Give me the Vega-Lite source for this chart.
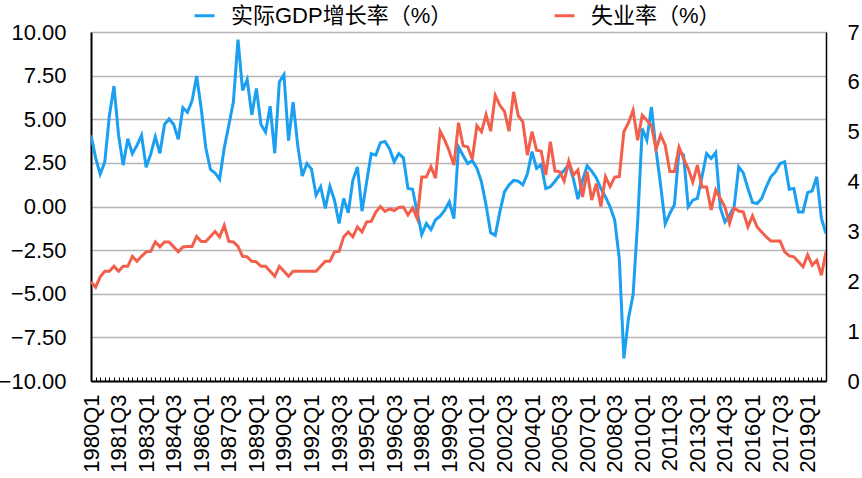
{
 "$schema": "https://vega.github.io/schema/vega-lite/v6.json",
 "width": 735,
 "height": 349,
 "autosize": "none",
 "padding": {"left": 91, "top": 32, "right": 36, "bottom": 97},
 "background": "white",
 "config": {
  "view": {"stroke": null},
  "font": "Liberation Sans, Noto Sans CJK SC",
  "axis": {"labelFont": "Liberation Sans", "labelColor": "#000000", "labelFontSize": 22, "domainColor": "#000000", "titleFontSize": 0}
 },
 "data": {"values": [
  {"q":"1980Q1","gdp":4.08,"un":1.99},{"q":"1980Q2","gdp":2.8,"un":1.88},{"q":"1980Q3","gdp":1.85,"un":2.09},{"q":"1980Q4","gdp":2.56,"un":2.2},
  {"q":"1981Q1","gdp":5.2,"un":2.2},{"q":"1981Q2","gdp":6.9,"un":2.3},{"q":"1981Q3","gdp":4.1,"un":2.2},{"q":"1981Q4","gdp":2.37,"un":2.3},
  {"q":"1982Q1","gdp":3.88,"un":2.3},{"q":"1982Q2","gdp":3.03,"un":2.5},{"q":"1982Q3","gdp":3.5,"un":2.4},{"q":"1982Q4","gdp":4.08,"un":2.5},
  {"q":"1983Q1","gdp":2.25,"un":2.59},{"q":"1983Q2","gdp":3.0,"un":2.6},{"q":"1983Q3","gdp":4.0,"un":2.79},{"q":"1983Q4","gdp":3.05,"un":2.69},
  {"q":"1984Q1","gdp":4.7,"un":2.79},{"q":"1984Q2","gdp":5.02,"un":2.79},{"q":"1984Q3","gdp":4.7,"un":2.69},{"q":"1984Q4","gdp":3.85,"un":2.59},
  {"q":"1985Q1","gdp":5.66,"un":2.69},{"q":"1985Q2","gdp":5.4,"un":2.7},{"q":"1985Q3","gdp":6.05,"un":2.7},{"q":"1985Q4","gdp":7.48,"un":2.9},
  {"q":"1986Q1","gdp":5.6,"un":2.8},{"q":"1986Q2","gdp":3.35,"un":2.8},{"q":"1986Q3","gdp":2.12,"un":2.9},{"q":"1986Q4","gdp":1.92,"un":3.0},
  {"q":"1987Q1","gdp":1.55,"un":2.89},{"q":"1987Q2","gdp":3.35,"un":3.12},{"q":"1987Q3","gdp":4.66,"un":2.8},{"q":"1987Q4","gdp":6.0,"un":2.79},
  {"q":"1988Q1","gdp":9.56,"un":2.7},{"q":"1988Q2","gdp":6.66,"un":2.5},{"q":"1988Q3","gdp":7.27,"un":2.49},{"q":"1988Q4","gdp":5.25,"un":2.4},
  {"q":"1989Q1","gdp":6.76,"un":2.39},{"q":"1989Q2","gdp":4.7,"un":2.3},{"q":"1989Q3","gdp":4.27,"un":2.3},{"q":"1989Q4","gdp":5.75,"un":2.2},
  {"q":"1990Q1","gdp":3.05,"un":2.1},{"q":"1990Q2","gdp":7.14,"un":2.3},{"q":"1990Q3","gdp":7.56,"un":2.2},{"q":"1990Q4","gdp":3.78,"un":2.1},
  {"q":"1991Q1","gdp":5.98,"un":2.2},{"q":"1991Q2","gdp":3.5,"un":2.2},{"q":"1991Q3","gdp":1.75,"un":2.2},{"q":"1991Q4","gdp":2.46,"un":2.2},
  {"q":"1992Q1","gdp":2.14,"un":2.2},{"q":"1992Q2","gdp":0.65,"un":2.2},{"q":"1992Q3","gdp":1.13,"un":2.3},{"q":"1992Q4","gdp":-0.11,"un":2.4},
  {"q":"1993Q1","gdp":1.16,"un":2.4},{"q":"1993Q2","gdp":0.36,"un":2.59},{"q":"1993Q3","gdp":-0.97,"un":2.6},{"q":"1993Q4","gdp":0.46,"un":2.89},
  {"q":"1994Q1","gdp":-0.36,"un":2.99},{"q":"1994Q2","gdp":1.5,"un":2.89},{"q":"1994Q3","gdp":2.27,"un":3.09},{"q":"1994Q4","gdp":-0.27,"un":2.99},
  {"q":"1995Q1","gdp":1.41,"un":3.19},{"q":"1995Q2","gdp":3.03,"un":3.2},{"q":"1995Q3","gdp":2.94,"un":3.39},{"q":"1995Q4","gdp":3.66,"un":3.5},
  {"q":"1996Q1","gdp":3.73,"un":3.4},{"q":"1996Q2","gdp":3.3,"un":3.45},{"q":"1996Q3","gdp":2.56,"un":3.42},{"q":"1996Q4","gdp":3.03,"un":3.48},
  {"q":"1997Q1","gdp":2.79,"un":3.49},{"q":"1997Q2","gdp":1.03,"un":3.33},{"q":"1997Q3","gdp":0.99,"un":3.47},{"q":"1997Q4","gdp":-0.32,"un":3.26},
  {"q":"1998Q1","gdp":-1.6,"un":4.09},{"q":"1998Q2","gdp":-0.97,"un":4.09},{"q":"1998Q3","gdp":-1.32,"un":4.3},{"q":"1998Q4","gdp":-0.76,"un":4.07},
  {"q":"1999Q1","gdp":-0.55,"un":5.01},{"q":"1999Q2","gdp":-0.21,"un":4.83},{"q":"1999Q3","gdp":0.27,"un":4.61},{"q":"1999Q4","gdp":-0.69,"un":4.33},
  {"q":"2000Q1","gdp":3.42,"un":5.18},{"q":"2000Q2","gdp":2.92,"un":4.72},{"q":"2000Q3","gdp":2.46,"un":4.7},{"q":"2000Q4","gdp":2.63,"un":4.45},
  {"q":"2001Q1","gdp":2.2,"un":5.12},{"q":"2001Q2","gdp":1.41,"un":5.0},{"q":"2001Q3","gdp":0.08,"un":5.34},{"q":"2001Q4","gdp":-1.5,"un":5.01},
  {"q":"2002Q1","gdp":-1.65,"un":5.73},{"q":"2002Q2","gdp":-0.31,"un":5.53},{"q":"2002Q3","gdp":0.84,"un":5.41},{"q":"2002Q4","gdp":1.24,"un":5.01},
  {"q":"2003Q1","gdp":1.5,"un":5.8},{"q":"2003Q2","gdp":1.45,"un":5.32},{"q":"2003Q3","gdp":1.24,"un":5.2},{"q":"2003Q4","gdp":1.87,"un":4.53},
  {"q":"2004Q1","gdp":3.15,"un":5.0},{"q":"2004Q2","gdp":2.18,"un":4.63},{"q":"2004Q3","gdp":2.4,"un":4.61},{"q":"2004Q4","gdp":1.03,"un":4.13},
  {"q":"2005Q1","gdp":1.13,"un":4.8},{"q":"2005Q2","gdp":1.45,"un":4.21},{"q":"2005Q3","gdp":1.79,"un":4.2},{"q":"2005Q4","gdp":2.08,"un":4.01},
  {"q":"2006Q1","gdp":2.4,"un":4.41},{"q":"2006Q2","gdp":1.6,"un":4.13},{"q":"2006Q3","gdp":0.42,"un":4.23},{"q":"2006Q4","gdp":1.5,"un":3.69},
  {"q":"2007Q1","gdp":2.33,"un":4.2},{"q":"2007Q2","gdp":2.02,"un":3.63},{"q":"2007Q3","gdp":1.64,"un":3.96},{"q":"2007Q4","gdp":1.03,"un":3.5},
  {"q":"2008Q1","gdp":0.55,"un":4.1},{"q":"2008Q2","gdp":-0.02,"un":3.9},{"q":"2008Q3","gdp":-0.78,"un":4.09},{"q":"2008Q4","gdp":-2.98,"un":4.1},
  {"q":"2009Q1","gdp":-8.7,"un":5.0},{"q":"2009Q2","gdp":-6.41,"un":5.18},{"q":"2009Q3","gdp":-5.08,"un":5.43},{"q":"2009Q4","gdp":-0.88,"un":4.83},
  {"q":"2010Q1","gdp":4.47,"un":5.33},{"q":"2010Q2","gdp":3.8,"un":5.23},{"q":"2010Q3","gdp":5.7,"un":5.12},{"q":"2010Q4","gdp":3.23,"un":4.65},
  {"q":"2011Q1","gdp":1.22,"un":4.93},{"q":"2011Q2","gdp":-1.0,"un":4.73},{"q":"2011Q3","gdp":-0.4,"un":4.2},{"q":"2011Q4","gdp":0.1,"un":4.2},
  {"q":"2012Q1","gdp":3.2,"un":4.69},{"q":"2012Q2","gdp":2.94,"un":4.46},{"q":"2012Q3","gdp":-0.02,"un":4.26},{"q":"2012Q4","gdp":0.36,"un":3.99},
  {"q":"2013Q1","gdp":0.46,"un":4.33},{"q":"2013Q2","gdp":1.7,"un":3.89},{"q":"2013Q3","gdp":3.03,"un":3.89},{"q":"2013Q4","gdp":2.75,"un":3.43},
  {"q":"2014Q1","gdp":3.09,"un":3.83},{"q":"2014Q2","gdp":-0.08,"un":3.66},{"q":"2014Q3","gdp":-0.88,"un":3.49},{"q":"2014Q4","gdp":-0.5,"un":3.16},
  {"q":"2015Q1","gdp":-0.02,"un":3.47},{"q":"2015Q2","gdp":2.27,"un":3.41},{"q":"2015Q3","gdp":1.93,"un":3.39},{"q":"2015Q4","gdp":1.03,"un":3.09},
  {"q":"2016Q1","gdp":0.23,"un":3.31},{"q":"2016Q2","gdp":0.17,"un":3.09},{"q":"2016Q3","gdp":0.46,"un":2.99},{"q":"2016Q4","gdp":1.13,"un":2.89},
  {"q":"2017Q1","gdp":1.7,"un":2.81},{"q":"2017Q2","gdp":1.98,"un":2.81},{"q":"2017Q3","gdp":2.46,"un":2.81},{"q":"2017Q4","gdp":2.56,"un":2.59},
  {"q":"2018Q1","gdp":0.99,"un":2.51},{"q":"2018Q2","gdp":1.03,"un":2.49},{"q":"2018Q3","gdp":-0.31,"un":2.39},{"q":"2018Q4","gdp":-0.31,"un":2.29},
  {"q":"2019Q1","gdp":0.8,"un":2.53},{"q":"2019Q2","gdp":0.9,"un":2.32},{"q":"2019Q3","gdp":1.7,"un":2.42},{"q":"2019Q4","gdp":-0.69,"un":2.12},
  {"q":"2020Q1","gdp":-1.55,"un":2.59}
 ]},
 "encoding": {
  "x": {
   "field": "q", "type": "ordinal", "sort": null,
   "scale": {"type": "point", "padding": 0},
   "axis": {
    "title": null, "labelAngle": -90, "labelOverlap": false, "labelBound": false,
    "labelExpr": "(((toNumber(slice(datum.value,0,4))-1980)*4 + toNumber(slice(datum.value,5,6)) - 1) % 6 == 0) ? datum.value : ''",
    "tickSize": -4, "tickColor": "#000000", "tickWidth": 1, "labelPadding": 17,
    "domainWidth": 2, "grid": false
   }
  }
 },
 "layer": [
  {
   "mark": {"type": "line", "strokeWidth": 3, "strokeJoin": "miter", "clip": true},
   "encoding": {
    "y": {
     "field": "gdp", "type": "quantitative",
     "scale": {"domain": [-10, 10], "nice": false, "zero": false},
     "axis": {
      "title": null, "orient": "left", "values": [-10, -7.5, -5, -2.5, 0, 2.5, 5, 7.5, 10],
      "format": ".2f", "tickSize": 0, "labelPadding": 25, "domainWidth": 2,
      "grid": true, "gridColor": "#b5b5b5", "gridWidth": 1.5
     }
    },
    "color": {
     "datum": "实际GDP增长率（%）",
     "scale": {"domain": ["实际GDP增长率（%）", "失业率（%）"], "range": ["#1b9ff1", "#f2604c"]},
     "legend": {
      "title": null, "orient": "none", "legendX": 102, "legendY": -28, "direction": "horizontal",
      "symbolType": "stroke", "symbolSize": 400, "symbolStrokeWidth": 3,
      "labelFontSize": 22, "labelFont": "Liberation Sans, Noto Sans CJK SC", "labelColor": "#000000",
      "labelOffset": 15, "columnPadding": 95, "padding": 0, "labelLimit": 400
     }
    }
   }
  },
  {
   "mark": {"type": "line", "strokeWidth": 3, "strokeJoin": "miter", "clip": true},
   "encoding": {
    "y": {
     "field": "un", "type": "quantitative",
     "scale": {"domain": [0, 7], "nice": false, "zero": false},
     "axis": {
      "title": null, "orient": "right", "values": [0, 1, 2, 3, 4, 5, 6, 7],
      "format": "d", "tickSize": 0, "labelPadding": 21, "domainWidth": 1.5, "grid": false
     }
    },
    "color": {"datum": "失业率（%）"}
   }
  }
 ],
 "resolve": {"scale": {"y": "independent"}}
}
